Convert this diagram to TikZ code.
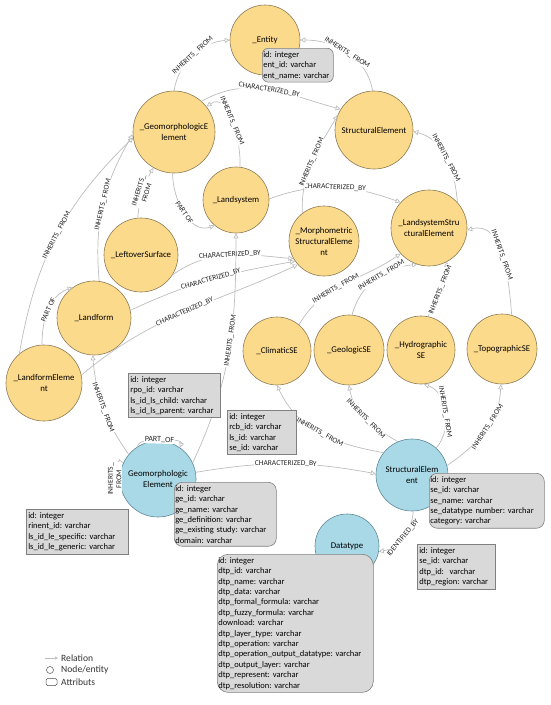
\documentclass[tikz,border=0pt]{standalone}
\usepackage{fontspec}
\setmainfont{Carlito}
\usetikzlibrary{calc,arrows.meta}

\definecolor{entyellow}{HTML}{FCDA8C}
\definecolor{entborder}{HTML}{8C7B55}
\definecolor{entblue}{HTML}{A9D8E6}
\definecolor{blueborder}{HTML}{5F8A99}
\definecolor{boxgray}{HTML}{D9D9D9}
\definecolor{boxborder}{HTML}{808080}
\definecolor{relgray}{HTML}{BDBDBD}

\newcommand\entfont{\fontsize{8.8}{11}\selectfont}
\newcommand\attfont{\fontsize{8.5}{10.4}\selectfont}
\newcommand\relfont{\fontsize{7.5}{8.5}\selectfont}
\newcommand\legfont{\fontsize{9.6}{11}\selectfont}

\begin{document}
\begin{tikzpicture}[x=1pt,y=1pt,
  yent/.style={circle,draw=entborder,fill=entyellow,line width=0.6pt,inner sep=0pt,align=center,font=\entfont},
  bent/.style={yent,draw=blueborder,fill=entblue},
  attbox/.style={rectangle,draw=boxborder,fill=boxgray,line width=0.6pt,anchor=north west,align=left,inner xsep=2pt,inner ysep=3pt,font=\attfont},
  attround/.style={attbox,rounded corners=8pt,inner xsep=1pt},
  rel/.style={draw=relgray,line width=0.7pt,-{Triangle[open,length=5pt,width=5pt]}},
  rlbl/.style={font=\relfont,sloped,fill=white,inner sep=0.6pt,text=black!85},
  looplbl/.style={font=\relfont,fill=white,inner sep=0.6pt,text=black!85},
  legtext/.style={anchor=west,font=\legfont,text=black!80,inner sep=0pt}]

\useasboundingbox (0,0) rectangle (550,-705);

% entities
\node[yent,minimum size=70pt] (ent) at (265,-40) {\_Entity};
\node[yent,minimum size=82pt] (geoment) at (174,-132) {\_GeomorphologicE\\lement};
\node[yent,minimum size=78pt] (strel) at (374,-130) {StructuralElement};
\node[yent,minimum size=66pt] (lsys) at (236,-200) {\_Landsystem};
\node[yent,minimum size=70pt] (morph) at (324,-241) {\_Morphometric\\StructuralEleme\\nt};
\node[yent,minimum size=76pt] (lsse) at (429,-228) {\_LandsystemStru\\cturalElement};
\node[yent,minimum size=74pt] (leftover) at (141,-255) {\_LeftoverSurface};
\node[yent,minimum size=74pt] (lform) at (94,-318) {\_Landform};
\node[yent,minimum size=76pt] (lfelem) at (44,-383) {\_LandformEleme\\nt};
\node[yent,minimum size=68pt] (clim) at (277,-351) {\_ClimaticSE};
\node[yent,minimum size=70pt] (geol) at (349,-350) {\_GeologicSE};
\node[yent,minimum size=68pt] (hydro) at (421,-350) {\_Hydrographic\\SE};
\node[yent,minimum size=70pt] (topo) at (502,-349) {\_TopographicSE};
\node[bent,minimum size=76pt] (gebl) at (158,-479) {Geomorphologic\\Element};
\node[bent,minimum size=72pt] (sebl) at (412,-475) {StructuralElem\\ent};
\node[bent,minimum size=64pt] (dtype) at (347,-546) {Datatype};

% relations, upper part
\draw[rel] (geoment.90) to[out=80,in=185] node[rlbl]{INHERITS\_ FROM} (ent.180);
\draw[rel] (strel.92) to[out=100,in=0] node[rlbl]{INHERITS\_ FROM} (ent.0);
\draw[rel] (geoment.48) to[out=30,in=165] node[rlbl]{CHARACTERIZED\_BY} (strel.148);
\draw[rel] (lsys.83) to[out=88,in=35] node[rlbl]{INHERITS\_ FROM} (geoment.38);
\draw[rel] (geoment.268) to[out=270,in=200] node[rlbl]{PART OF} (lsys.230);
\draw[rel] (leftover.95) to[bend left=12] node[rlbl,align=center]{INHERITS\_\\FROM} (geoment.240);
\draw[rel] (lform.82) to[out=95,in=240] node[rlbl]{INHERITS\_ FROM} (geoment.183);
\draw[rel] (lfelem.130) to[bend left=18] node[rlbl]{INHERITS\_ FROM} (geoment.188);
\draw[rel] (lfelem.93) to[out=90,in=200] node[rlbl]{PART OF} (lform.125);
\draw[rel] (leftover.328) to[out=35,in=175] node[rlbl]{CHARACTERIZED\_BY} (morph.210);
\draw[rel] (lform.12) to[out=25,in=190] node[rlbl]{CHARACTERIZED\_BY} (morph.215);
\draw[rel] (lfelem.12) to[out=40,in=205] node[rlbl]{CHARACTERIZED\_BY} (morph.222);
\draw[rel] (lsys.2) to[out=20,in=160] node[rlbl]{CHARACTERIZED\_BY} (lsse.138);
\draw[rel] (morph.128) to[out=92,in=240] node[rlbl]{INHERITS\_ FROM} (strel.158);
\draw[rel] (lsse.42) to[out=95,in=-15] node[rlbl]{INHERITS\_ FROM} (strel.358);
\draw[rel] (clim.50) to[out=60,in=215] node[rlbl,pos=0.42]{INHERITS\_ FROM} (lsse.222);
\draw[rel] (geol.85) to[out=75,in=185] node[rlbl,pos=0.58]{INHERITS\_ FROM} (lsse.252);
\draw[rel] (hydro.78) to[out=65,in=265] node[rlbl]{INHERITS\_ FROM} (lsse.298);
\draw[rel] (topo.74) to[out=95,in=15] node[rlbl]{INHERITS\_ FROM} (lsse.357);

% relations, lower part
\draw[rel] (sebl.142) to[out=170,in=295] node[rlbl]{INHERITS\_ FROM} (clim.270);
\draw[rel] (sebl.113) to[out=150,in=280] node[rlbl]{INHERITS\_ FROM} (geol.270);
\draw[rel] (sebl.48) to[out=50,in=340] node[rlbl]{INHERITS\_ FROM} (hydro.275);
\draw[rel] (sebl.15) to[out=35,in=268] node[rlbl,pos=0.55]{INHERITS\_ FROM} (topo.268);
\draw[rel] (gebl.140) to[out=125,in=275] node[rlbl]{INHERITS\_ FROM} (lform.268);
\draw[rel] (gebl.205) to[out=195,in=165,distance=12pt] node[looplbl,align=center,rotate=90]{INHERITS\_\\FROM} (gebl.155);
\draw[rel] (gebl.122) to[out=100,in=70,distance=10pt] node[rlbl,font=\fontsize{8}{9}\selectfont]{PART\_OF} (gebl.55);
\draw[rel] (gebl.10) to[bend left=10] node[rlbl]{CHARACTERIZED\_BY} (sebl.178);
\draw[rel] (gebl.25) to[out=65,in=270] node[rlbl,pos=0.55]{INHERITS\_ FROM} (lsys.270);
\draw[rel] (sebl.272) to[out=265,in=10] node[rlbl]{IDENTIFIED\_BY} (dtype.350);

% attributes
\node[attround,rounded corners=6pt,text width=69pt] (entattr) at ($ (ent)+(-3,-8) $) {id:~integer\\ent\_id:~varchar\\ent\_name:~varchar};
\node[attbox,text width=88pt] (lsattr) at (128,-373) {id:~integer\\rpo\_id:~varchar\\ls\_id\_ls\_child:~varchar\\ls\_id\_ls\_parent:~varchar};
\node[attbox,text width=65pt] (rcbattr) at (227,-410) {id:~integer\\rcb\_id:~varchar\\ls\_id:~varchar\\se\_id:~varchar};
\node[attbox,text width=98pt] (rinattr) at (26,-509) {id:~integer\\rinent\_id:~varchar\\ls\_id\_le\_specific:~varchar\\ls\_id\_le\_generic:~varchar};
\node[attround,text width=100pt] (geattr) at ($ (gebl)+(16,-3) $) {id:~integer\\ge\_id:~varchar\\ge\_name:~varchar\\ge\_definition:~varchar\\ge\_existing~study:~varchar\\domain:~varchar};
\node[attround,text width=113pt] (seattr) at ($ (sebl)+(17,2) $) {id:~integer\\se\_id:~varchar\\se\_name:~varchar\\se\_datatype~number:~varchar\\category:~varchar};
\node[attbox,text width=74pt] (dtpregattr) at (417,-544) {id:~integer\\se\_id:~varchar\\dtp\_id:~~varchar\\dtp\_region:~varchar};
\node[attround,rounded corners=11pt,text width=154pt] (dtpattr) at ($ (dtype)+(-130,-8) $) {id:~integer\\dtp\_id:~varchar\\dtp\_name:~varchar\\dtp\_data:~varchar\\dtp\_formal\_formula:~varchar\\dtp\_fuzzy\_formula:~varchar\\download:~varchar\\dtp\_layer\_type:~varchar\\dtp\_operation:~varchar\\dtp\_operation\_output\_datatype:~varchar\\dtp\_output\_layer:~varchar\\dtp\_represent:~varchar\\dtp\_resolution:~varchar};

% legend
\node[legtext] (legrel) at (61,-658) {Relation};
\node[legtext] (legnode) at (61,-670) {Node/entity};
\node[legtext] (legatt) at (61,-682) {Attributs};
\draw[rel,-{Triangle[open,length=3pt,width=3pt]}] ($ (legrel.west)+(-16,0) $) -- ($ (legrel.west)+(-3,0) $);
\draw[black!70,line width=0.5pt] ($ (legnode.west)+(-11,0) $) circle (3.5);
\draw[black!70,line width=0.5pt,rounded corners=1.5pt] ($ (legatt.west)+(-15,-3.5) $) rectangle ($ (legatt.west)+(-4,3.5) $);

\end{tikzpicture}
\end{document}
